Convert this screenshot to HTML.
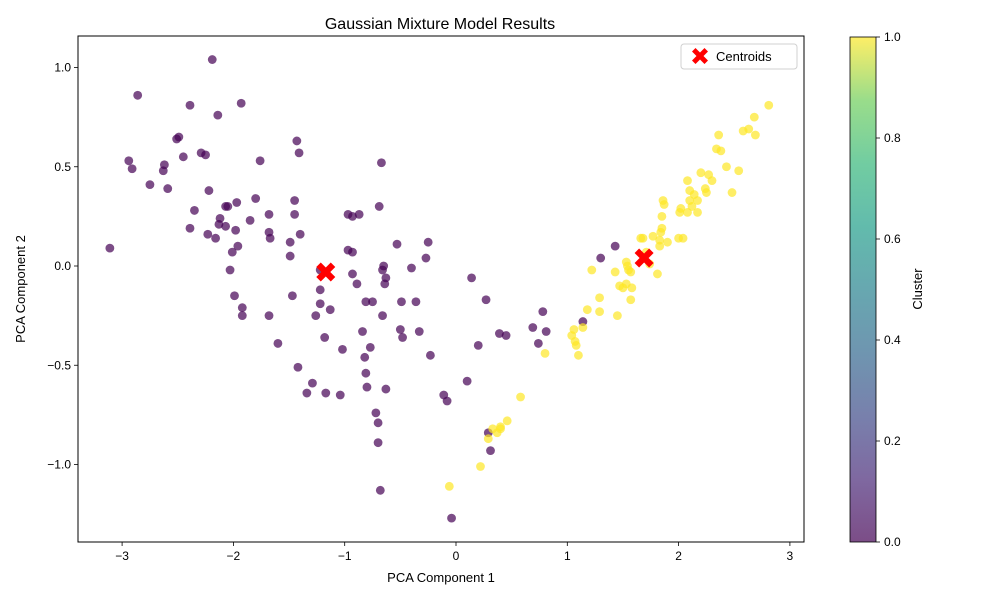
<!DOCTYPE html>
<html><head><meta charset="utf-8"><style>
body{margin:0;background:#fff;font-family:"Liberation Sans",sans-serif}
svg text{font-family:"Liberation Sans",sans-serif;fill:#000}
</style></head><body>
<svg id="chart" width="1000" height="600" viewBox="0 0 1000 600">
<defs><linearGradient id="vir" x1="0" y1="1" x2="0" y2="0">
<stop offset="0" stop-color="#440154"/><stop offset="0.125" stop-color="#482878"/><stop offset="0.25" stop-color="#3e4a89"/><stop offset="0.375" stop-color="#31688e"/><stop offset="0.5" stop-color="#26828e"/><stop offset="0.625" stop-color="#1f9e89"/><stop offset="0.75" stop-color="#35b779"/><stop offset="0.875" stop-color="#6ece58"/><stop offset="1" stop-color="#fde725"/></linearGradient></defs>
<text x="440" y="29" font-size="16" text-anchor="middle">Gaussian Mixture Model Results</text>
<g id="points"></g>
<g id="axes"></g>
<rect x="78" y="36" width="726" height="506" fill="none" stroke="#000" stroke-width="1"/>
<text x="441" y="582" font-size="13" text-anchor="middle">PCA Component 1</text>
<text transform="translate(25,289) rotate(-90)" font-size="13" text-anchor="middle">PCA Component 2</text>
<g>
<rect x="681" y="44" width="116" height="25" rx="3" fill="#fff" stroke="#ccc" opacity="0.9"/>
<path d="M-4.5,-8 L0,-3.5 L4.5,-8 L8,-4.5 L3.5,0 L8,4.5 L4.5,8 L0,3.5 L-4.5,8 L-8,4.5 L-3.5,0 L-8,-4.5Z" transform="translate(700,56)" fill="red"/>
<text x="716" y="61" font-size="13">Centroids</text>
</g>
<rect x="850" y="37" width="26" height="505" fill="url(#vir)" opacity="0.7"/>
<rect x="850" y="37" width="26" height="505" fill="none" stroke="#000" stroke-width="0.8"/>
<g id="cbticks"></g>
<text transform="translate(922,289) rotate(-90)" font-size="13" text-anchor="middle">Cluster</text>
</svg>
<script>
const xTicks=[-3,-2,-1,0,1,2,3];
const yTicks=[-1.0,-0.5,0.0,0.5,1.0];
const cbTicks=[0.0,0.2,0.4,0.6,0.8,1.0];
const purpleX=[-3.11,-2.86,-2.94,-2.91,-2.75,-2.62,-2.63,-2.59,-2.51,-2.49,-2.45,-2.39,-2.39,-2.35,-2.29,-2.25,-2.22,-2.23,-2.19,-2.14,-2.16,-2.13,-2.12,-2.07,-2.05,-2.07,-2.03,-2.01,-1.99,-1.98,-1.97,-1.96,-1.93,-1.92,-1.92,-1.85,-1.80,-1.76,-1.68,-1.67,-1.68,-1.68,-1.60,-1.49,-1.49,-1.47,-1.45,-1.45,-1.43,-1.41,-1.42,-1.40,-1.34,-1.29,-1.26,-1.22,-1.22,-1.22,-1.18,-1.17,-1.13,-1.02,-1.04,-0.97,-0.97,-0.93,-0.93,-0.87,-0.93,-0.89,-0.84,-0.81,-0.75,-0.82,-0.81,-0.80,-0.77,-0.72,-0.70,-0.69,-0.67,-0.70,-0.68,-0.66,-0.65,-0.66,-0.63,-0.64,-0.63,-0.53,-0.49,-0.50,-0.48,-0.40,-0.36,-0.33,-0.27,-0.25,-0.23,-0.11,-0.08,-0.04,0.10,0.14,0.20,0.27,0.29,0.31,0.39,0.45,0.69,0.74,0.78,0.81,1.14,1.30,1.43];
const purpleY=[0.09,0.86,0.53,0.49,0.41,0.51,0.48,0.39,0.64,0.65,0.55,0.81,0.19,0.28,0.57,0.56,0.38,0.16,1.04,0.76,0.14,0.21,0.24,0.30,0.30,0.20,-0.02,0.07,-0.15,0.18,0.32,0.10,0.82,-0.21,-0.25,0.23,0.34,0.53,0.17,0.14,0.26,-0.25,-0.39,0.12,0.05,-0.15,0.33,0.26,0.63,0.57,-0.51,0.16,-0.64,-0.59,-0.25,-0.19,-0.12,-0.02,-0.36,-0.64,-0.22,-0.42,-0.65,0.26,0.08,0.07,0.25,0.26,-0.04,-0.09,-0.33,-0.18,-0.18,-0.46,-0.54,-0.61,-0.41,-0.74,-0.79,0.30,0.52,-0.89,-1.13,-0.25,0.00,-0.02,-0.06,-0.09,-0.62,0.11,-0.18,-0.32,-0.36,-0.01,-0.18,-0.33,0.04,0.12,-0.45,-0.65,-0.68,-1.27,-0.58,-0.06,-0.40,-0.17,-0.84,-0.93,-0.34,-0.35,-0.31,-0.39,-0.23,-0.33,-0.28,0.04,0.10];
const yellowX=[-0.06,0.22,0.29,0.33,0.37,0.40,0.40,0.46,0.58,0.80,1.04,1.06,1.07,1.08,1.10,1.14,1.18,1.22,1.29,1.29,1.43,1.45,1.47,1.50,1.53,1.54,1.55,1.57,1.53,1.57,1.58,1.66,1.68,1.71,1.74,1.77,1.81,1.83,1.83,1.84,1.85,1.85,1.86,1.87,1.90,2.00,2.01,2.02,2.04,2.08,2.10,2.10,2.08,2.12,2.14,2.17,2.17,2.20,2.24,2.25,2.27,2.30,2.34,2.36,2.38,2.43,2.48,2.54,2.58,2.63,2.68,2.69,2.81];
const yellowY=[-1.11,-1.01,-0.87,-0.82,-0.84,-0.82,-0.81,-0.78,-0.66,-0.44,-0.35,-0.32,-0.38,-0.40,-0.45,-0.31,-0.22,-0.02,-0.16,-0.23,-0.03,-0.25,-0.10,-0.11,0.02,0.00,-0.02,-0.03,-0.09,-0.17,-0.11,0.14,0.14,0.07,0.01,0.15,-0.04,0.10,0.13,0.17,0.19,0.25,0.33,0.31,0.12,0.14,0.27,0.29,0.14,0.43,0.38,0.33,0.27,0.30,0.36,0.33,0.27,0.47,0.39,0.37,0.46,0.43,0.59,0.66,0.58,0.50,0.37,0.48,0.68,0.69,0.75,0.66,0.81];
const centroidX=[-1.17,1.69];
const centroidY=[-0.03,0.04];
const NS='http://www.w3.org/2000/svg';
function sx(v){return 456+v*111.3;}
function sy(v){return 266-v*198.5;}
function cy(v){return 542-v*505;}
const pts=document.getElementById('points');
function dot(x,y,c,n){const e=document.createElementNS(NS,'circle');e.setAttribute('cx',sx(x));e.setAttribute('cy',sy(y));e.setAttribute('r',4.4);e.setAttribute('fill',c);e.setAttribute('fill-opacity',0.7);


pts.appendChild(e);}
purpleX.forEach((x,i)=>dot(x,purpleY[i],'#440154','cluster-0-point'));
yellowX.forEach((x,i)=>dot(x,yellowY[i],'#fde725','cluster-1-point'));
centroidX.forEach((x,i)=>{const p=document.createElementNS(NS,'path');p.setAttribute('d','M-5,-9.5 L0,-4.5 L5,-9.5 L9.5,-5 L4.5,0 L9.5,5 L5,9.5 L0,4.5 L-5,9.5 L-9.5,5 L-4.5,0 L-9.5,-5Z');p.setAttribute('transform','translate('+sx(x)+','+sy(centroidY[i])+')');p.setAttribute('fill','red');


pts.appendChild(p);});
const ax=document.getElementById('axes');
function line(x1,y1,x2,y2,g){const l=document.createElementNS(NS,'line');l.setAttribute('x1',x1);l.setAttribute('y1',y1);l.setAttribute('x2',x2);l.setAttribute('y2',y2);l.setAttribute('stroke','#000');l.setAttribute('stroke-width',0.8);g.appendChild(l);}
function txt(x,y,s,a,g,n){const t=document.createElementNS(NS,'text');t.setAttribute('x',x);t.setAttribute('y',y);t.setAttribute('font-size',12);t.setAttribute('text-anchor',a);t.textContent=s;


g.appendChild(t);}
function fmt(v,d){const s=v.toFixed(d);return v<0?'\u2212'+s.slice(1):s;}
xTicks.forEach(v=>{line(sx(v),542,sx(v),546,ax);txt(sx(v),560,fmt(v,0),'middle',ax,'x-tick-label');});
yTicks.forEach(v=>{line(74,sy(v),78,sy(v),ax);txt(71,sy(v)+4,fmt(v,1),'end',ax,'y-tick-label');});
const cb=document.getElementById('cbticks');
cbTicks.forEach(v=>{line(876,cy(v),880,cy(v),cb);txt(884,cy(v)+4,v.toFixed(1),'start',cb,'colorbar-tick-label');});
</script>
</body></html>
